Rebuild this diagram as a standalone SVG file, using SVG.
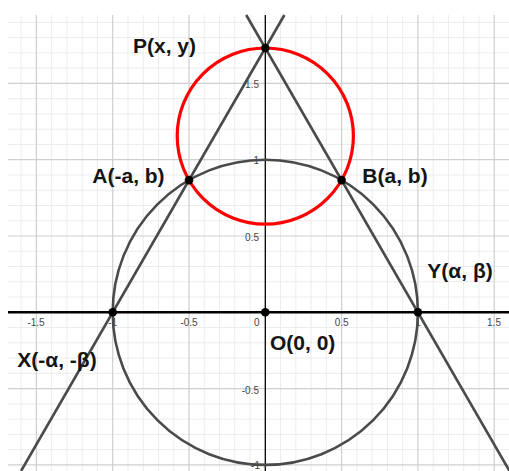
<svg xmlns="http://www.w3.org/2000/svg" width="509" height="471" viewBox="0 0 509 471">
<style>
.minor{stroke:#ececec;stroke-width:1;fill:none}
.major{stroke:#cfcfcf;stroke-width:1.2;fill:none}
.tick{font-family:"Liberation Sans",Arial,sans-serif;font-size:10px;fill:#444}
.lab{font-family:"Liberation Sans",Arial,sans-serif;font-size:21px;font-weight:bold;fill:#151515}
.gray{stroke:#4a4a4a;stroke-width:2.6;fill:none}
.red{stroke:#ff0000;stroke-width:3.2;fill:none}
.pt{fill:#000}
</style>
<rect width="509" height="471" fill="#fff"/>
<g id="grid">
<path class="minor" d="M21.14 15V471M51.66 15V471M66.92 15V471M82.18 15V471M97.44 15V471M127.96 15V471M143.22 15V471M158.48 15V471M173.74 15V471M204.26 15V471M219.52 15V471M234.78 15V471M250.04 15V471M280.56 15V471M295.82 15V471M311.08 15V471M326.34 15V471M356.86 15V471M372.12 15V471M387.38 15V471M402.64 15V471M433.16 15V471M448.42 15V471M463.68 15V471M478.94 15V471
M8 22.36H509M8 37.62H509M8 52.88H509M8 68.14H509M8 98.66H509M8 113.92H509M8 129.18H509M8 144.44H509M8 174.96H509M8 190.22H509M8 205.48H509M8 220.74H509M8 251.26H509M8 266.52H509M8 281.78H509M8 297.04H509M8 327.56H509M8 342.82H509M8 358.08H509M8 373.34H509M8 403.86H509M8 419.12H509M8 434.38H509M8 449.64H509"/>
<path class="major" d="M36.4 15V471M112.7 15V471M189 15V471M341.6 15V471M417.9 15V471M494.2 15V471M8 83.4H509M8 159.7H509M8 236H509M8 388.6H509M8 464.9H509"/>
</g>
<g id="axes">
<line x1="8" y1="312.3" x2="509" y2="312.3" stroke="#000" stroke-width="2.4"/>
<line x1="265.3" y1="15" x2="265.3" y2="471" stroke="#000" stroke-width="1.3"/>
<g class="tick">
<text x="36" y="326" text-anchor="middle">-1.5</text>
<text x="112.7" y="326" text-anchor="middle">-1</text>
<text x="189" y="326" text-anchor="middle">-0.5</text>
<text x="259.5" y="326" text-anchor="end">0</text>
<text x="341.6" y="326" text-anchor="middle">0.5</text>
<text x="418" y="326" text-anchor="middle">1</text>
<text x="494" y="326" text-anchor="middle">1.5</text>
<text x="259" y="87.5" text-anchor="end">1.5</text>
<text x="259" y="163.5" text-anchor="end">1</text>
<text x="259" y="240.5" text-anchor="end">0.5</text>
<text x="259" y="393.5" text-anchor="end">-0.5</text>
<text x="260" y="469" text-anchor="end">-1</text>
</g>
</g>
<g id="connectors">
<circle id="unit-circle" class="gray" cx="265.3" cy="312.3" r="152.6"/>
<line id="line-XP" class="gray" x1="21.1" y1="471" x2="284.4" y2="15"/>
<line id="line-YP" class="gray" x1="509.5" y1="471" x2="246.2" y2="15"/>
<circle id="red-circle" class="red" cx="265.3" cy="136.1" r="88.1"/>
</g>
<g id="P"><circle class="pt" cx="265.3" cy="48" r="4.3"/><text class="lab" x="133" y="52.7">P(x, y)</text></g>
<g id="A"><circle class="pt" cx="189" cy="180.1" r="4.3"/><text class="lab" x="92.3" y="182.7">A(-a, b)</text></g>
<g id="B"><circle class="pt" cx="341.6" cy="180.1" r="4.3"/><text class="lab" x="362.3" y="183.3">B(a, b)</text></g>
<g id="Y"><circle class="pt" cx="417.9" cy="312.3" r="4.3"/><text class="lab" x="427.3" y="278.3">Y(α, β)</text></g>
<g id="X"><circle class="pt" cx="112.7" cy="312.3" r="4.3"/><text class="lab" x="17.3" y="367.3">X(-α, -β)</text></g>
<g id="O"><circle class="pt" cx="265.3" cy="312.3" r="4.3"/><text class="lab" x="270" y="350">O(0, 0)</text></g>
</svg>
